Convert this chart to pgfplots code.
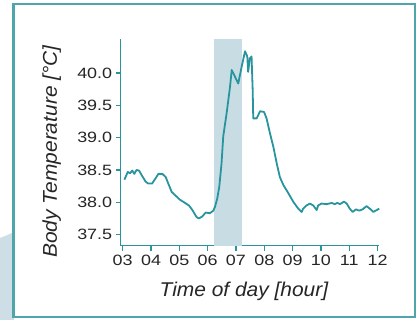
\documentclass[border=0pt]{standalone}
\usepackage{pgfplots}
\pgfplotsset{compat=1.18}
\usepackage{fontspec}
\setmainfont{Liberation Sans}
\newfontfamily\tickfont{Liberation Sans}[FakeStretch=1.2]
\newfontfamily\labfont{Liberation Sans}[FakeStretch=1.05]
\definecolor{teal1}{RGB}{40,148,158}
\definecolor{frame1}{RGB}{78,165,170}
\definecolor{shade1}{RGB}{200,220,227}
\definecolor{swoosh}{RGB}{205,222,230}
\definecolor{txt}{RGB}{38,38,38}
\pgfplotstableread{
x y
3.06 38.35
3.18 38.47
3.26 38.45
3.34 38.49
3.41 38.44
3.49 38.50
3.58 38.49
3.67 38.42
3.81 38.32
3.90 38.29
4.04 38.29
4.16 38.37
4.26 38.44
4.40 38.44
4.52 38.39
4.61 38.29
4.73 38.16
4.85 38.11
5.02 38.04
5.20 37.99
5.34 37.95
5.46 37.88
5.61 37.77
5.69 37.75
5.81 37.78
5.93 37.84
6.08 37.83
6.20 37.87
6.26 37.93
6.34 38.06
6.41 38.24
6.49 38.60
6.55 39.02
6.67 39.38
6.79 39.79
6.85 40.05
6.96 39.95
7.08 39.84
7.20 40.10
7.32 40.34
7.40 40.26
7.43 40.02
7.49 40.23
7.55 40.26
7.59 39.74
7.61 39.30
7.73 39.30
7.85 39.41
7.99 39.40
8.08 39.30
8.20 39.07
8.32 38.86
8.44 38.60
8.55 38.39
8.67 38.27
8.85 38.14
9.02 38.01
9.20 37.90
9.32 37.85
9.37 37.90
9.49 37.95
9.61 37.98
9.73 37.95
9.85 37.88
9.90 37.95
10.02 37.98
10.20 37.97
10.38 37.99
10.49 37.97
10.58 37.99
10.67 37.97
10.81 38.01
10.91 37.98
11.02 37.90
11.12 37.85
11.24 37.89
11.35 37.87
11.47 37.89
11.61 37.94
11.73 37.90
11.85 37.85
11.97 37.88
12.06 37.90
}\tempdata
\begin{document}
\begin{tikzpicture}[x=1bp,y=1bp]
\fill[white] (0,0) rectangle (417,320);
\fill[swoosh] (0,0) -- (0,82) .. controls (5,84) and (10,86) .. (14,88) -- (14,0) -- cycle;
\draw[frame1, line width=2bp] (13.5,3.5) rectangle (414.5,316);
\begin{axis}[
  at={(120.7bp,74.5bp)}, anchor=south west,
  scale only axis, width=258.3bp, height=206.5bp,
  xmin=2.93, xmax=12.05, ymin=37.33, ymax=40.53,
  axis x line*=bottom, axis y line*=left,
  axis line style={teal1, line width=1.5bp, -},
  xtick={3,4,...,12},
  xticklabels={03,04,05,06,07,08,09,10,11,12},
  ytick={37.5,38,38.5,39,39.5,40},
  yticklabels={37.5,38.0,38.5,39.0,39.5,40.0},
  tick style={teal1, line width=1.5bp},
  tick align=outside, major tick length=5bp,
  tick label style={font=\tickfont\fontsize{15}{15}\selectfont, text=txt},
  xticklabel style={yshift=-1bp},
  yticklabel style={xshift=0bp},
  xlabel={Time of day [hour]},
  ylabel={Body Temperature [°C]},
  label style={font=\labfont\itshape\fontsize{20}{20}\selectfont, text=txt},
  xlabel style={at={(axis description cs:0.477,-0.249)}, anchor=base},
  ylabel style={at={(axis description cs:-0.247,0.455)}, anchor=base},
  clip=false,
]
\fill[shade1] (axis cs:6.22,37.33) rectangle (axis cs:7.21,40.53);
\addplot[teal1, line width=1.8bp, line join=round, mark=none] table[x=x,y=y] {\tempdata};
\end{axis}
\end{tikzpicture}
\end{document}
